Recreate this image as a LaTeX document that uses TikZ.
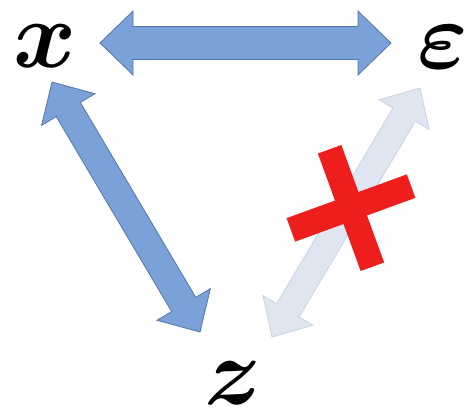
\RequirePackage{fix-cm}
\documentclass[tikz,border=0pt]{standalone}
\usepackage{bm}
\usetikzlibrary{calc}
\definecolor{arrowblue}{RGB}{122,161,216}
\definecolor{arrowedge}{RGB}{86,118,168}
\definecolor{palefill}{RGB}{223,230,241}
\definecolor{paleedge}{RGB}{200,210,226}
\definecolor{crossred}{RGB}{238,30,28}
\tikzset{
  lbl/.style={inner sep=0pt, font=\fontsize{96}{96}\selectfont},
  strongarrow/.style={fill=arrowblue, draw=arrowedge, line width=0.8pt, line join=miter},
  weakarrow/.style={fill=palefill, draw=paleedge, line width=0.8pt, line join=miter},
  crossbar/.style={fill=crossred, inner sep=0pt, minimum height=25pt}
}
% #1 style, #2 tip A, #3 tip B, #4 head length, #5 head half width, #6 shaft half width
\newcommand\blockarrow[6]{%
  \path[#1] (#2)
    -- ($(#2)!#4!(#3)!#5!90:(#3)$) -- ($(#2)!#4!(#3)!#6!90:(#3)$)
    -- ($(#3)!#4!(#2)!#6!-90:(#2)$) -- ($(#3)!#4!(#2)!#5!-90:(#2)$)
    -- (#3)
    -- ($(#3)!#4!(#2)!#5!90:(#2)$) -- ($(#3)!#4!(#2)!#6!90:(#2)$)
    -- ($(#2)!#4!(#3)!#6!-90:(#3)$) -- ($(#2)!#4!(#3)!#5!-90:(#3)$)
    -- cycle;}
\begin{document}
\begin{tikzpicture}[x=1pt,y=-1pt]
\useasboundingbox (0,0) rectangle (472,410);
% labels
\node[lbl] (x) at (45,46) {$\bm{x}$};
\node[lbl] (e) at (443,47) {$\bm{\varepsilon}$};
\node[lbl] (z) at (233,383) {$\bm{z}$};
% arrow tips
\coordinate (xe1) at (100,43);
\coordinate (xe2) at (391,43);
\coordinate (xz1) at (52,82);
\coordinate (xz2) at (200,332);
\coordinate (ez1) at (420,88);
\coordinate (ez2) at (272,337);
% arrows
\blockarrow{weakarrow}{ez1}{ez2}{31pt}{29pt}{13pt}
\blockarrow{strongarrow}{xe1}{xe2}{33pt}{32pt}{16.5pt}
\blockarrow{strongarrow}{xz1}{xz2}{32pt}{31pt}{14pt}
% red cross
\node[crossbar, minimum width=128pt, rotate=20] (crossA) at (351,208) {};
\node[crossbar, minimum width=125pt, rotate=110] (crossB) at (351,208) {};
\end{tikzpicture}
\end{document}
